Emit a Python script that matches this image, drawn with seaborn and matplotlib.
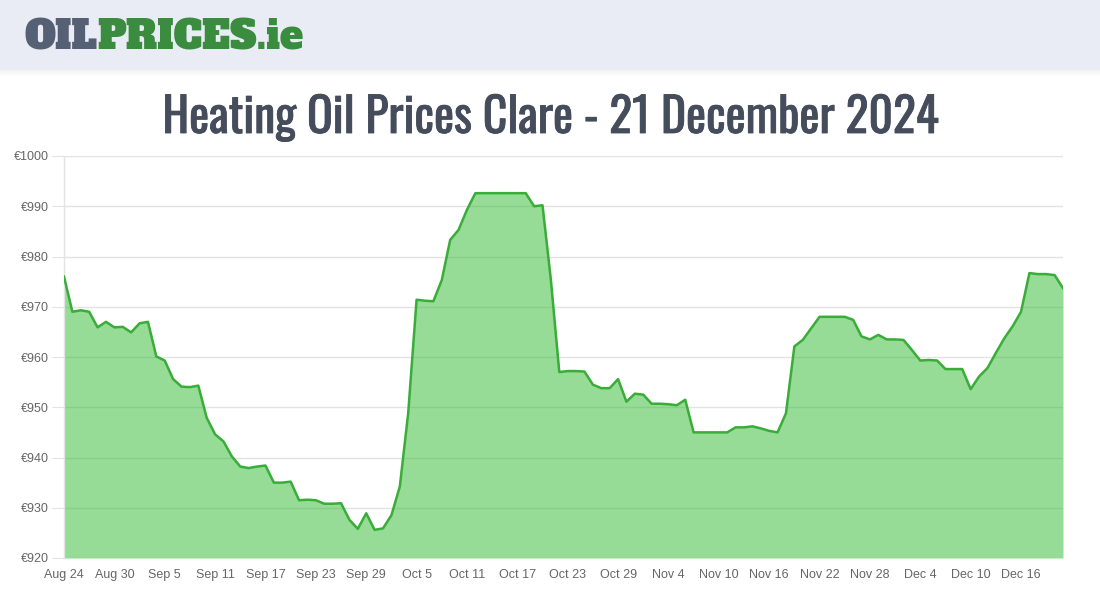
import numpy as np
import pandas as pd
import matplotlib
matplotlib.use('Agg')
import matplotlib.pyplot as plt
import matplotlib.ticker as mticker
import matplotlib.dates as mdates
import matplotlib.patheffects as pe
from matplotlib.patches import Rectangle
import seaborn as sns

# daily price, Aug 24 -> Dec 21 2024
start_day = '2024-08-24'
end_day = '2024-12-21'
prices = [
    976.0, 969.0, 969.3, 969.0, 965.9, 967.0, 965.9, 966.0, 964.9, 966.7,   # Aug 24 - Sep 2
    967.0, 960.1, 959.3, 955.6, 954.1, 954.0, 954.3, 947.9, 944.6, 943.2,   # Sep 3 - 12
    940.2, 938.2, 937.9, 938.2, 938.4, 935.0, 935.0, 935.2, 931.5, 931.6,   # Sep 13 - 22
    931.5, 930.8, 930.8, 930.9, 927.6, 925.8, 928.9, 925.6, 925.9, 928.5,   # Sep 23 - Oct 2
    934.2, 948.8, 971.4, 971.2, 971.1, 975.3, 983.3, 985.3, 989.3, 992.6,   # Oct 3 - 12
    992.6, 992.6, 992.6, 992.6, 992.6, 992.6, 990.0, 990.2, 975.3, 957.0,   # Oct 13 - 22
    957.2, 957.2, 957.1, 954.5, 953.8, 953.8, 955.6, 951.1, 952.7, 952.5,   # Oct 23 - Nov 1
    950.7, 950.7, 950.6, 950.4, 951.5, 945.0, 945.0, 945.0, 945.0, 945.0,   # Nov 2 - 11
    946.0, 946.0, 946.2, 945.8, 945.3, 945.0, 948.8, 962.1, 963.4, 965.7,   # Nov 12 - 21
    968.0, 968.0, 968.0, 968.0, 967.4, 964.1, 963.5, 964.4, 963.5, 963.5,   # Nov 22 - Dec 1
    963.4, 961.4, 959.3, 959.4, 959.3, 957.6, 957.6, 957.6, 953.6, 956.1,   # Dec 2 - 11
    957.8, 960.8, 963.7, 966.1, 969.0, 976.7, 976.5, 976.5, 976.3, 973.7,   # Dec 12 - 21
]
y_ticks = [920, 930, 940, 950, 960, 970, 980, 990, 1000]
title_text = 'Heating Oil Prices Clare - 21 December 2024'

df = pd.DataFrame({'date': pd.date_range(start_day, end_day, freq='D'), 'price': prices})

line_col = '#38ad38'
fill_col = '#2eb82e'
grid_col = '#e3e3e3'
tick_col = '#666666'
title_col = '#454c5c'
W, H = 1100, 600

fig = plt.figure(figsize=(11, 6), dpi=100)
fig.patch.set_facecolor('white')

def fit_width(txt, target_px):
    # rescale font size so the text spans target_px
    fig.canvas.draw()
    w = txt.get_window_extent().width
    txt.set_fontsize(txt.get_fontsize() * target_px / w)

# header band with a soft shadow
fig.patches.append(Rectangle((0, 1 - 70/H), 1, 70/H, transform=fig.transFigure,
                             facecolor='#e9ecf4', edgecolor='none', zorder=0))
for i in range(6):
    fig.patches.append(Rectangle((0, 1 - (71 + i)/H), 1, 1/H, transform=fig.transFigure,
                                 facecolor='#000000', alpha=0.05 * (1 - i/6), edgecolor='none', zorder=0))

# logo
logo_fam = ['Alfa Slab One', 'DejaVu Serif']
t1 = fig.text(24/W, 1 - 50/H, 'OIL', color='#566074', family=logo_fam, weight='bold', size=25)
t2 = fig.text(0.2, 1 - 50/H, 'PRICES.ie', color='#3a8c3f', family=logo_fam, weight='bold', size=25)
fig.canvas.draw()
w_all = t1.get_window_extent().width + t2.get_window_extent().width
scale = 280 / w_all
t1.set_fontsize(25 * scale)
t2.set_fontsize(25 * scale)
fig.canvas.draw()
t2.set_x(t1.get_window_extent().x1 / W)

# title (thin stroke to get the medium weight)
title = fig.text(0.5, 1 - 133/H, title_text, ha='center', va='baseline', color=title_col,
                 family=['Oswald', 'DejaVu Sans'], size=30)
fit_width(title, 775)
title.set_path_effects([pe.withStroke(linewidth=0.6, foreground=title_col)])

ax = fig.add_axes([64/W, 42/H, (1063-64)/W, (558-156)/H])
ax.set_facecolor('white')

ax.fill_between(df['date'], 920, df['price'], color=fill_col, alpha=0.5, lw=0, zorder=2)
sns.lineplot(data=df, x='date', y='price', ax=ax, color=line_col, lw=1.8, zorder=3)
ax.lines[-1].set_solid_joinstyle('round')

ax.set_xlim(df['date'].iloc[0], df['date'].iloc[-1])
ax.set_ylim(920, 1000)
ax.set_yticks(y_ticks)
ax.yaxis.set_major_formatter(mticker.FuncFormatter(lambda v, p: '€%d' % v))
ax.set_xticks(df['date'].iloc[::6])
ax.xaxis.set_major_formatter(mdates.DateFormatter('%b %-d'))
ax.set_xlabel('')
ax.set_ylabel('')

ax.grid(axis='y', color=grid_col, lw=1, zorder=1)
ax.grid(axis='x', visible=False)
ax.set_axisbelow(True)
for s in ['top', 'right', 'bottom']:
    ax.spines[s].set_visible(False)
ax.spines['left'].set_color(grid_col)
ax.spines['left'].set_linewidth(1)

ax.tick_params(axis='y', length=9, color=grid_col, labelsize=9, labelcolor=tick_col, pad=2)
ax.tick_params(axis='x', length=0, labelsize=9, labelcolor=tick_col, pad=8)
for lab in ax.get_xticklabels() + ax.get_yticklabels():
    lab.set_family(['Arimo', 'Liberation Sans', 'DejaVu Sans'])

fig.savefig('out.png', dpi=100)
